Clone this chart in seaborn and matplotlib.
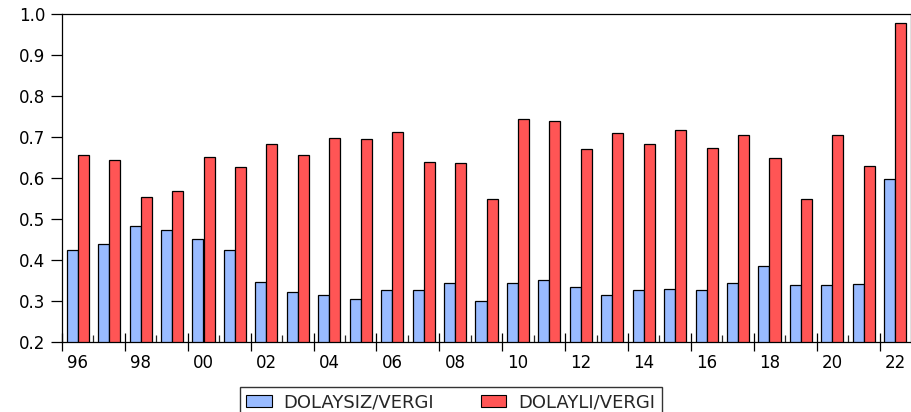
import numpy as np
import pandas as pd
import matplotlib
matplotlib.use("Agg")
import matplotlib.pyplot as plt
import matplotlib.transforms as mtrans
import seaborn as sns

# data, 1996-2022
years = list(range(1996, 2023))
dolaysiz = [0.425, 0.440, 0.483, 0.473, 0.452, 0.425, 0.347, 0.323, 0.314, 0.306,
            0.326, 0.328, 0.345, 0.301, 0.344, 0.352, 0.333, 0.315, 0.328, 0.330,
            0.327, 0.345, 0.385, 0.339, 0.338, 0.341, 0.598]
dolayli = [0.655, 0.644, 0.553, 0.568, 0.652, 0.627, 0.683, 0.657, 0.698, 0.696,
           0.712, 0.638, 0.637, 0.550, 0.744, 0.739, 0.670, 0.709, 0.683, 0.716,
           0.672, 0.704, 0.650, 0.550, 0.704, 0.629, 0.977]
series_names = ["DOLAYSIZ/VERGI", "DOLAYLI/VERGI"]
colors = ["#99BBFF", "#FF5555"]
year_labels = [str(y)[2:] for y in years]

df = pd.DataFrame({"year": year_labels * 2,
                   "value": dolaysiz + dolayli,
                   "series": [series_names[0]] * len(years) + [series_names[1]] * len(years)})

sns.set_style("white")
plt.rcParams["font.family"] = ["DejaVu Sans"]

fig = plt.figure(figsize=(9.12, 4.12), dpi=100)
ax = fig.add_axes([62 / 912, 70 / 412, 849 / 912, 328 / 412])

sns.barplot(data=df, x="year", y="value", hue="series", order=year_labels,
            hue_order=series_names, palette=colors, saturation=1,
            width=0.7, edgecolor="black", linewidth=0.9, ax=ax, legend=False)

n = len(years)
ax.set_ylim(0.2, 1.0)
ax.set_xlim(-0.5, n - 0.5)
yt = np.arange(0.2, 1.01, 0.1)
ax.set_yticks(yt)
ax.set_yticklabels([f"{v:.1f}" for v in yt], fontsize=12)
ax.tick_params(axis="y", direction="out", length=8, width=0.9, left=True, pad=4, colors="black")

# long ticks at the left edge of every labelled year, short inner ticks elsewhere
ax.set_xticks(np.arange(-0.5, n - 0.5, 2.0))
ax.set_xticklabels(year_labels[::2], fontsize=12)
ax.set_xticks(np.arange(0.5, n - 0.5, 2.0), minor=True)
ax.tick_params(axis="x", which="major", direction="inout", length=13, width=0.9,
               bottom=True, pad=2, colors="black")
ax.tick_params(axis="x", which="minor", direction="in", length=5, width=0.9, bottom=True)
shift = mtrans.ScaledTranslation(849 / n / 2 / 100, 0, fig.dpi_scale_trans)
for lab in ax.get_xticklabels():
    lab.set_transform(lab.get_transform() + shift)
ax.set_xlabel("")
ax.set_ylabel("")

for s in ax.spines.values():
    s.set_color("black")
    s.set_linewidth(0.9)

handles = [plt.Rectangle((0, 0), 1, 1, facecolor=c, edgecolor="black", linewidth=0.8)
           for c in colors]
fig.legend(handles, series_names, loc="upper left", bbox_to_anchor=(240 / 912, 1 - 387 / 412),
           ncol=2, frameon=True, fancybox=False, edgecolor="black", fontsize=13,
           handlelength=1.4, handleheight=0.66, columnspacing=2.6, handletextpad=0.66,
           borderpad=0.35, borderaxespad=0)

fig.savefig("out.png", dpi=100)
